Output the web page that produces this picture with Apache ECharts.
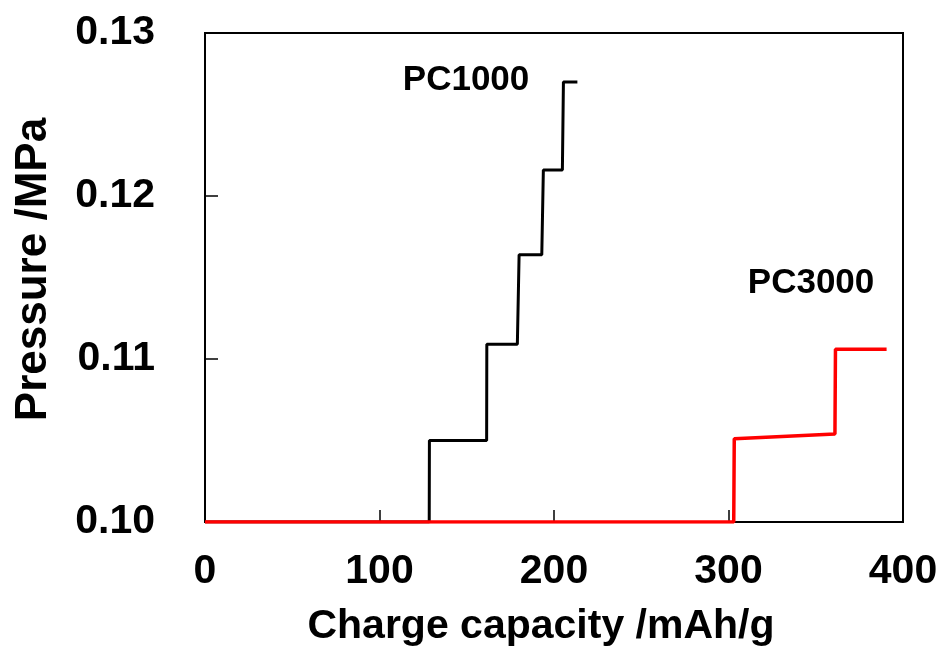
<!DOCTYPE html>
<html><head><meta charset="utf-8">
<script src="https://cdn.jsdelivr.net/npm/echarts@6/dist/echarts.min.js"></script>
<style>html,body{margin:0;padding:0;background:#fff}#c{width:941px;height:650px}</style>
</head><body><div id="c"></div>
<script>
const xTicks = [0, 100, 200, 300, 400];
const yTicks = [0.10, 0.11, 0.12, 0.13];
const pc1000X = [0, 128.5, 128.6, 161.4, 161.5, 179.0, 180.0, 193.0, 193.9, 204.8, 205.4, 213.4];
const pc1000Y = [0.1000, 0.1000, 0.1050, 0.1050, 0.1109, 0.1109, 0.1164, 0.1164, 0.1216, 0.1216, 0.1270, 0.1270];
const pc3000X = [0, 303.0, 303.3, 361.0, 361.3, 390.6];
const pc3000Y = [0.1000, 0.1000, 0.1051, 0.1054, 0.1106, 0.1106];
const labels = [
  {name: 'PC1000', x: 149.6, y: 0.1271},
  {name: 'PC3000', x: 347.3, y: 0.11466}
];
const zip = (a, b) => a.map((v, i) => [v, b[i]]);
const font = '"Liberation Sans", Arial, sans-serif';
const chart = echarts.init(document.getElementById('c'), null, {renderer: 'canvas'});
chart.setOption({
  backgroundColor: '#fff',
  animation: false,
  grid: {left: 205, right: 38, top: 33, bottom: 128, outerBoundsMode: 'none', containLabel: false,
    show: true, borderColor: '#000', borderWidth: 2, backgroundColor: 'transparent'},
  xAxis: {
    type: 'value', min: xTicks[0], max: xTicks[xTicks.length - 1], interval: 100,
    name: 'Charge capacity /mAh/g', nameLocation: 'middle', nameGap: 84,
    nameTextStyle: {fontFamily: font, fontWeight: 'bold', fontSize: 41, color: '#000', padding: [0, 26, 0, 0]},
    axisLine: {show: true, lineStyle: {color: '#000', width: 2}},
    axisTick: {show: true, inside: true, length: 12, lineStyle: {color: '#000', width: 1.5}},
    axisLabel: {fontFamily: font, fontWeight: 'bold', fontSize: 41, color: '#000', margin: 29},
    splitLine: {show: false}
  },
  yAxis: {
    type: 'value', min: yTicks[0], max: yTicks[yTicks.length - 1], interval: 0.01,
    name: 'Pressure /MPa', nameLocation: 'middle', nameGap: 149,
    nameTextStyle: {fontFamily: font, fontWeight: 'bold', fontSize: 44, color: '#000', padding: [0, 0, 0, 16]},
    axisLine: {show: true, lineStyle: {color: '#000', width: 2}},
    axisTick: {show: true, inside: true, length: 13, lineStyle: {color: '#000', width: 1.5}},
    axisLabel: {fontFamily: font, fontWeight: 'bold', fontSize: 41, color: '#000', margin: 50,
      formatter: v => v.toFixed(2)},
    splitLine: {show: false}
  },
  series: [
    {name: 'PC1000', type: 'line', data: zip(pc1000X, pc1000Y), symbol: 'none',
      lineStyle: {color: '#000', width: 3}, z: 2},
    {name: 'PC3000', type: 'line', data: zip(pc3000X, pc3000Y), symbol: 'none',
      lineStyle: {color: '#ff0000', width: 3.5}, z: 3},
    {type: 'scatter', data: labels.map(l => ({value: [l.x, l.y], name: l.name})),
      symbolSize: 0, silent: true, z: 4, itemStyle: {opacity: 1},
      label: {show: true, position: 'inside', formatter: p => p.name, opacity: 1,
        fontFamily: font, fontWeight: 'bold', fontSize: 35, color: '#000', textBorderWidth: 0}}
  ]
});
</script></body></html>
